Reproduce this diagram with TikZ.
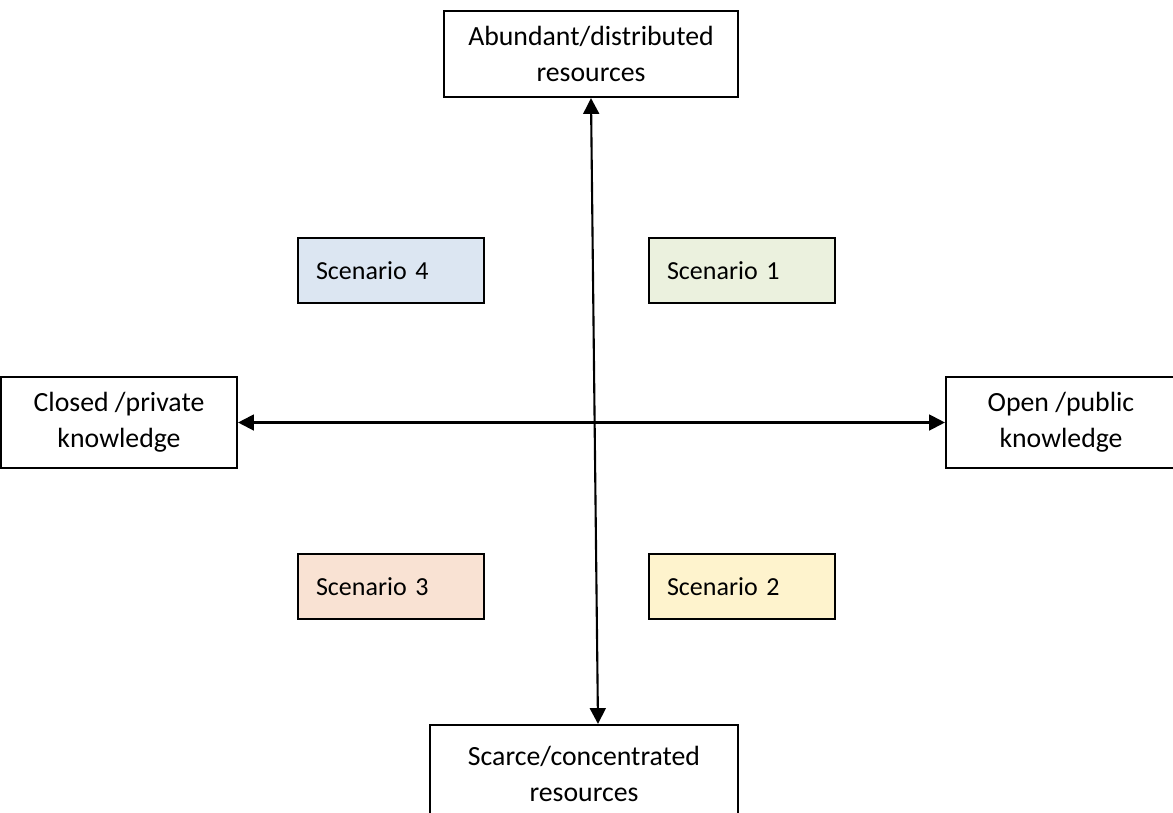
\documentclass[tikz,border=0pt]{standalone}
\usepackage{fontspec}
\setmainfont{Carlito}
\usepackage{tikz}
\usetikzlibrary{arrows.meta, positioning}
\definecolor{scenblue}{HTML}{DCE6F2}
\definecolor{scengreen}{HTML}{EBF1DE}
\definecolor{scenpeach}{HTML}{F9E2D3}
\definecolor{scenyellow}{HTML}{FEF3CD}
\tikzset{
	axisend/.style={draw, line width=1.2pt, fill=white, align=center,
		font=\fontsize{15.8}{20.5}\selectfont, inner sep=0pt},
	scen/.style={draw, line width=1.2pt, align=left, text width=3.0cm,
		inner xsep=0.36cm, minimum height=1.3cm,
		font=\fontsize{14.8}{19}\selectfont},
	axis/.style={line width=1.2pt, {Triangle[length=9pt,width=9pt]}-{Triangle[length=9pt,width=9pt]}}
}

\begin{document}
\begin{tikzpicture}
	\useasboundingbox (0,0) rectangle (23.46,-16.24);
	\node[axisend, minimum width=5.88cm, minimum height=1.72cm] (abundant) at (11.82,-1.08) {Abundant/distributed\\resources};
	\node[axisend, minimum width=6.16cm, minimum height=1.96cm] (scarce) at (11.68,-15.48) {Scarce/concentrated\\resources};
	\node[axisend, minimum width=4.72cm, minimum height=1.82cm] (closed) at (2.38,-8.45) {Closed /private\\knowledge};
	\node[axisend, minimum width=4.6cm, minimum height=1.82cm] (open) at (21.22,-8.45) {Open /public\\knowledge};
	\node[scen, fill=scenblue] (s4) at (7.82,-5.41) {Scenario 4};
	\node[scen, fill=scengreen] (s1) at (14.84,-5.41) {Scenario 1};
	\node[scen, fill=scenpeach] (s3) at (7.82,-11.73) {Scenario 3};
	\node[scen, fill=scenyellow] (s2) at (14.84,-11.73) {Scenario 2};
	\draw[axis] (abundant.south) -- ([xshift=0.28cm]scarce.north);
	\draw[axis] (closed.east) -- (open.west);
\end{tikzpicture}
\end{document}
